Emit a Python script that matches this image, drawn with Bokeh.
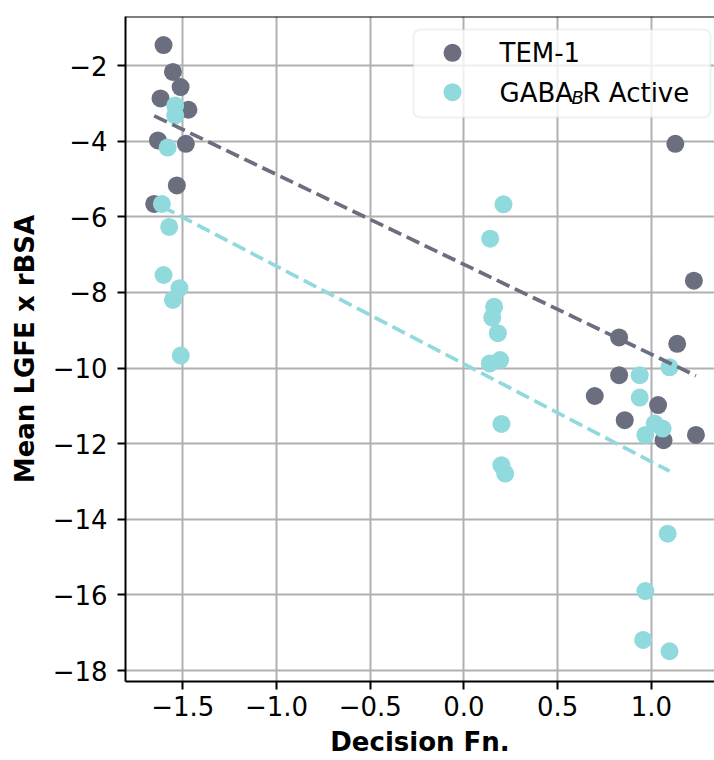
import numpy as np
from bokeh.plotting import figure
from bokeh.models import Range1d, FixedTicker, Span, Label, BoxAnnotation, CustomJSTickFormatter
from bokeh.embed import file_html
from bokeh.resources import INLINE

# ---------------- data ----------------
tem_x = [-1.603, -1.553, -1.512, -1.619, -1.470, -1.633, -1.484, -1.532, -1.653,
         1.128, 1.227, 0.828, 1.138, 0.828, 0.698, 1.036, 0.858, 1.065, 1.238]
tem_y = [-1.46, -2.17, -2.57, -2.87, -3.17, -3.98, -4.07, -5.17, -5.66,
         -4.07, -7.69, -9.19, -9.36, -10.19, -10.74, -10.98, -11.38, -11.91, -11.77]

gaba_x = [-1.541, -1.541, -1.581, -1.612, -1.573, -1.603, -1.518, -1.553, -1.511,
          0.211, 0.140, 0.161, 0.151, 0.181, 0.193, 0.138, 0.200, 0.200, 0.220,
          1.097, 0.938, 0.938, 1.018, 1.060, 0.968, 1.087, 0.968, 0.956, 1.097]
gaba_y = [-3.06, -3.32, -4.17, -5.66, -6.27, -7.54, -7.89, -8.20, -9.67,
          -5.67, -6.58, -8.38, -8.67, -9.08, -9.79, -9.88, -11.48, -12.57, -12.79,
          -9.98, -10.19, -10.78, -11.47, -11.60, -11.77, -14.38, -15.90, -17.19, -17.49]

x_ticks = [-1.5, -1.0, -0.5, 0.0, 0.5, 1.0]
x_tick_labels = ["\u22121.5", "\u22121.0", "\u22120.5", "0.0", "0.5", "1.0"]
y_ticks = [-2, -4, -6, -8, -10, -12, -14, -16, -18]
y_tick_labels = ["\u22122", "\u22124", "\u22126", "\u22128", "\u221210", "\u221212",
                 "\u221214", "\u221216", "\u221218"]

x_label = "Decision Fn."
y_label = "Mean LGFE x rBSA"
tem_name = "TEM-1"
gaba_name_parts = ["GABA", "B", "R Active"]

GRAY = "#6b6e7e"
CYAN = "#90d9dc"
FONT = "DejaVu Sans"
FS = "26px"

# ---------------- layout ----------------
W, H = 714, 760
L, R, T, B = 125, 714, 16, 681
X0, X1 = -1.806, 1.337
Y0, Y1 = -18.29, -0.704

p = figure(width=W, height=H, x_range=Range1d(X0, X1), y_range=Range1d(Y0, Y1),
           output_backend="svg", toolbar_location=None,
           min_border_left=L, min_border_right=W - R, min_border_top=T,
           min_border_bottom=H - B)
p.background_fill_color = "white"
p.border_fill_color = "white"
p.outline_line_color = None

# pixel-space helper ranges (for the legend)
p.extra_x_ranges = {"px": Range1d(L, R)}
p.extra_y_ranges = {"py": Range1d(B, T)}

# axes
FMT_CODE = """
const i = tvals.findIndex(t => Math.abs(t - tick) < 1e-9);
return i >= 0 ? tlabels[i] : '';
"""
xfmt = CustomJSTickFormatter(args=dict(tvals=x_ticks, tlabels=x_tick_labels), code=FMT_CODE)
yfmt = CustomJSTickFormatter(args=dict(tvals=y_ticks, tlabels=y_tick_labels), code=FMT_CODE)
p.xaxis.ticker = FixedTicker(ticks=x_ticks)
p.yaxis.ticker = FixedTicker(ticks=y_ticks)
p.xaxis.formatter = xfmt
p.yaxis.formatter = yfmt
p.xaxis.axis_label = x_label
p.yaxis.axis_label = y_label

for ax in (p.xaxis[0], p.yaxis[0]):
    ax.axis_line_width = 2
    ax.axis_line_color = "black"
    ax.major_tick_line_width = 2
    ax.major_tick_line_color = "black"
    ax.major_tick_out = 8
    ax.major_tick_in = 0
    ax.minor_tick_out = 0
    ax.minor_tick_in = 0
    ax.minor_tick_line_color = None
    ax.major_label_text_font = FONT
    ax.major_label_text_font_size = FS
    ax.major_label_text_color = "black"
    ax.axis_label_text_font = FONT
    ax.axis_label_text_font_size = FS
    ax.axis_label_text_font_style = "bold"
    ax.axis_label_text_color = "black"

p.xaxis.major_label_standoff = 6
p.yaxis.major_label_standoff = 10
p.xaxis.axis_label_standoff = 8
p.yaxis.axis_label_standoff = 10

for g in (p.xgrid[0], p.ygrid[0]):
    g.grid_line_color = "#b0b0b0"
    g.grid_line_width = 2

p.add_layout(Span(location=Y1, dimension="width", line_color="black", line_width=2))

# ---------------- marks ----------------
p.scatter(tem_x, tem_y, size=18, fill_color=GRAY, line_color=None)
p.scatter(gaba_x, gaba_y, size=18, fill_color=CYAN, line_color=None)


def fit_line(xs, ys):
    k, b = np.polyfit(np.asarray(xs), np.asarray(ys), 1)
    xx = np.array([min(xs), max(xs)])
    return xx, k * xx + b


tx, ty = fit_line(tem_x, tem_y)
gx, gy = fit_line(gaba_x, gaba_y)
p.line(tx, ty, line_color=GRAY, line_width=3.7, line_dash="14 6")
p.line(gx, gy, line_color=CYAN, line_width=3.7, line_dash="14 6")

# ---------------- legend ----------------
p.add_layout(BoxAnnotation(left=413, right=710, top=29, bottom=117,
                           x_range_name="px", y_range_name="py",
                           fill_color="white", fill_alpha=0.8,
                           line_color="#cccccc", line_width=2, border_radius=7))
p.scatter([452, 452], [52.3, 91.7], size=18, fill_color=[GRAY, CYAN], line_color=None,
          x_range_name="px", y_range_name="py", level="overlay")


def add_label(x, y, text, size=FS, style="normal"):
    p.add_layout(Label(x=x, y=y, text=text, x_range_name="px", y_range_name="py",
                       text_font=FONT, text_font_size=size, text_font_style=style,
                       text_color="black", text_align="left", text_baseline="middle"))


add_label(499, 52, tem_name)
add_label(499, 92, gaba_name_parts[0])
add_label(571, 97, gaba_name_parts[1], size="18px", style="italic")
add_label(582, 92, gaba_name_parts[2])

open("out.html", "w").write(file_html(p, INLINE))
